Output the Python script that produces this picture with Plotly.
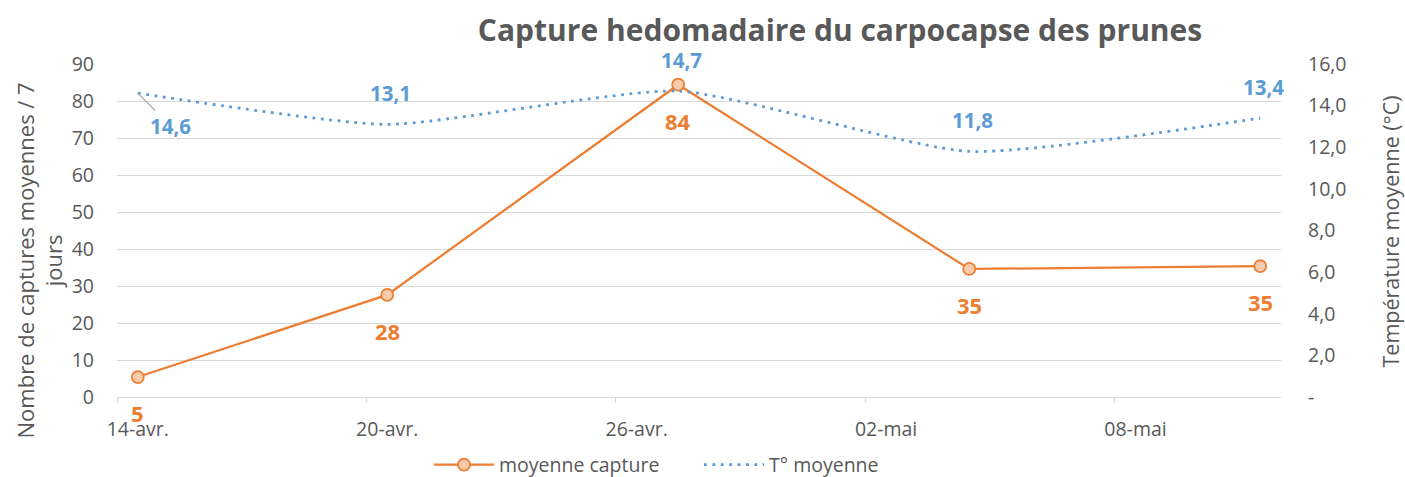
import plotly.graph_objects as go

# ---- data ----
dates = ["2023-04-14", "2023-04-20", "2023-04-27", "2023-05-04", "2023-05-11"]
captures = [5.4, 27.6, 84.4, 34.6, 35.4]
temperatures = [14.6, 13.1, 14.7, 11.8, 13.4]
capture_labels = ["5", "28", "84", "35", "35"]
temp_labels = ["14,6", "13,1", "14,7", "11,8", "13,4"]

x_tickvals = ["2023-04-14", "2023-04-20", "2023-04-26", "2023-05-02", "2023-05-08"]
x_ticktext = ["14-avr.", "20-avr.", "26-avr.", "02-mai", "08-mai"]
y_tickvals = [0, 10, 20, 30, 40, 50, 60, 70, 80, 90]
y2_tickvals = [0, 2, 4, 6, 8, 10, 12, 14, 16]
y2_ticktext = ["-", "2,0", "4,0", "6,0", "8,0", "10,0", "12,0", "14,0", "16,0"]

ORANGE = "#ED7D31"
ORANGE_FILL = "#F8CBAD"
BLUE = "#5B9BD5"
GRAY = "#595959"
GRID = "#D9D9D9"
FONT = "Open Sans, sans-serif"
TICK = 19.5

fig = go.Figure()

fig.add_trace(go.Scatter(
    x=dates, y=captures, name="moyenne capture", mode="lines+markers",
    line=dict(color=ORANGE, width=2.25),
    marker=dict(size=12, color=ORANGE_FILL, line=dict(color=ORANGE, width=1.75)),
    yaxis="y", hoverinfo="skip",
))
fig.add_trace(go.Scatter(
    x=dates, y=temperatures, name="T° moyenne", mode="lines",
    line=dict(color=BLUE, width=2.8, dash="2.8px,5.6px", shape="spline", smoothing=0.55),
    yaxis="y2", hoverinfo="skip",
))

annotations = []
for d, v, t in zip(dates, captures, capture_labels):
    annotations.append(dict(x=d, y=v, xref="x", yref="y", text=t, showarrow=False,
                            yshift=-36, font=dict(family=FONT, size=22, color=ORANGE, weight="bold")))
for i, (d, v, t) in enumerate(zip(dates, temperatures, temp_labels)):
    if i == 0:
        annotations.append(dict(x=d, y=v, xref="x", yref="y2", text=t, showarrow=True,
                                arrowhead=0, arrowwidth=1.3, arrowcolor="#A6A6A6",
                                ax=33, ay=33, standoff=0,
                                font=dict(family=FONT, size=20.5, color=BLUE, weight="bold")))
    else:
        annotations.append(dict(x=d, y=v, xref="x", yref="y2", text=t, showarrow=False,
                                xshift=3, yshift=31,
                                font=dict(family=FONT, size=20.5, color=BLUE, weight="bold")))

# axis titles
annotations.append(dict(text="Nombre de captures moyennes / 7<br>jours", xref="paper", yref="paper",
                        x=0, y=0.5, xanchor="center", yanchor="middle",
                        xshift=-78, yshift=-30, textangle=-90, showarrow=False,
                        font=dict(family=FONT, size=22, color=GRAY)))
annotations.append(dict(text="Température moyenne (°C)", xref="paper", yref="paper",
                        x=1, y=0.5, xanchor="center", yanchor="middle",
                        xshift=109, yshift=-1, textangle=-90, showarrow=False,
                        font=dict(family=FONT, size=21.5, color=GRAY)))

fig.update_layout(
    width=1405, height=477,
    autosize=False,
    margin=dict(l=117, r=124, t=64, b=80, autoexpand=False),
    paper_bgcolor="white", plot_bgcolor="white",
    font=dict(family=FONT, color=GRAY, size=TICK),
    separators=", ",
    title=dict(text="<b>Capture hedomadaire du carpocapse des prunes</b>",
               xref="container", yref="container", x=0.5979, xanchor="center",
               y=0.937, yanchor="middle",
               font=dict(family=FONT, size=30, color=GRAY)),
    showlegend=True,
    legend=dict(orientation="h", x=0.5, xanchor="center",
                y=-0.204, yanchor="middle", font=dict(size=TICK, color=GRAY),
                traceorder="normal", itemwidth=60, entrywidth=195),
    xaxis=dict(
        type="date", range=["2023-04-13 12:00", "2023-05-11 12:00"],
        tickmode="array", tickvals=x_tickvals, ticktext=x_ticktext,
        ticks="", showgrid=False, showline=True, linecolor=GRID, linewidth=1.3,
        zeroline=False, ticklabelstandoff=14,
        tickfont=dict(size=TICK, color=GRAY),
        minor=dict(ticks="outside", ticklen=5, tickcolor=GRID, tickwidth=1.3,
                   tick0="2023-04-13 12:00", dtick=6 * 86400000, showgrid=False),
    ),
    yaxis=dict(
        range=[0, 90], tickmode="array", tickvals=y_tickvals,
        showgrid=True, gridcolor=GRID, gridwidth=1.3, zeroline=False, showline=False,
        ticks="", ticklabelstandoff=22, tickfont=dict(size=TICK, color=GRAY),
    ),
    yaxis2=dict(
        range=[0, 16], overlaying="y", side="right", tickmode="array",
        tickvals=y2_tickvals, ticktext=y2_ticktext, showgrid=False, zeroline=False,
        showline=False, ticks="", ticklabelstandoff=26, tickfont=dict(size=TICK, color=GRAY),
    ),
    annotations=annotations,
)

fig.write_html(
    "out.html",
    config={"responsive": False, "displayModeBar": False},
    post_script="document.body.style.margin='0';document.body.style.overflow='hidden';",
)
